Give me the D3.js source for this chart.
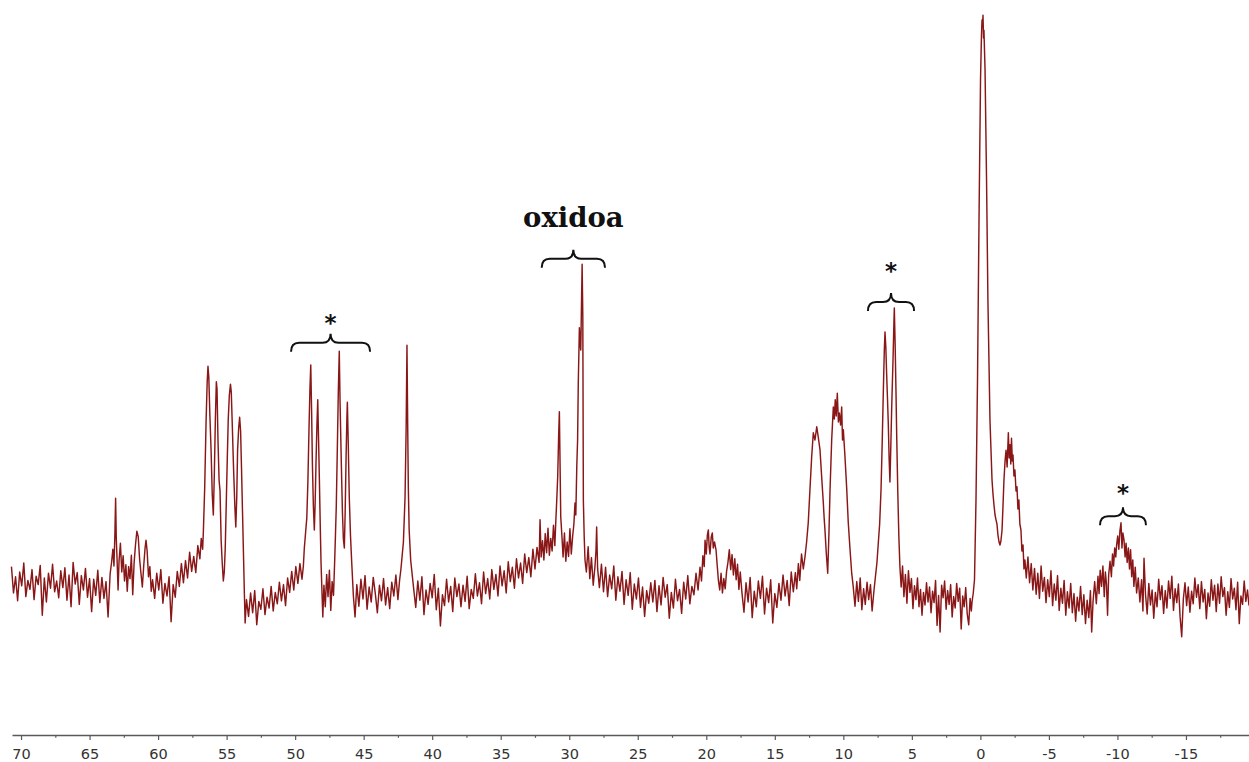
<!DOCTYPE html>
<html><head><meta charset="utf-8">
<script src="https://cdn.jsdelivr.net/npm/d3@7"></script>
<style>
html,body{margin:0;padding:0;background:#fff;}
svg{display:block;}
</style></head>
<body>
<svg id="chart" width="1249" height="762"></svg>
<script>
// ---- DATA: chemical shift (ppm) / intensity (a.u.) ----
const seg70_63 = [[70.70,8.9],[70.55,4.5],[70.40,7.2],[70.25,3.2],[70.10,8.0],[69.95,5.7],[69.80,9.5],[69.65,3.9],[69.50,6.6],[69.35,5.1],[69.20,8.4],[69.05,3.4],[68.90,7.3],[68.75,5.9],[68.60,9.1],[68.45,0.8],[68.30,7.0],[68.15,3.0],[68.00,7.8],[67.85,5.3],[67.70,9.3],[67.55,4.7],[67.40,6.5],[67.25,3.7],[67.10,8.2],[66.95,5.4],[66.80,8.7],[66.65,3.3],[66.50,7.5],[66.35,2.2],[66.20,9.6],[66.05,6.0],[65.90,7.9],[65.75,2.6],[65.60,7.4],[65.45,5.0],[65.30,8.6],[65.15,3.8],[65.00,6.9],[64.85,1.4],[64.70,6.8],[64.55,4.1],[64.40,8.3],[64.25,2.9],[64.10,7.1],[63.95,3.6],[63.80,6.4],[63.65,0.5],[63.50,7.7]];
const seg63_60 = [[63.40,9.5],[63.30,11.8],[63.22,9.0],[63.15,14.5],[63.10,20.3],[63.05,13.5],[63.00,10.5],[62.92,5.0],[62.85,9.8],[62.75,12.8],[62.65,8.0],[62.55,10.7],[62.45,6.5],[62.35,9.2],[62.25,4.8],[62.15,8.9],[62.05,6.9],[61.95,10.8],[61.85,4.2],[61.75,9.5],[61.65,12.5],[61.55,14.8],[61.45,13.9],[61.35,10.2],[61.25,7.8],[61.15,5.5],[61.05,9.0],[60.95,12.0],[60.88,13.3],[60.80,11.5],[60.70,7.2],[60.60,8.9],[60.50,4.8]];
const seg60_57 = [[60.40,6.7],[60.25,3.6],[60.10,7.8],[59.95,5.0],[59.80,8.4],[59.65,2.8],[59.50,6.1],[59.35,4.0],[59.20,7.2],[59.05,-0.3],[58.90,5.9],[58.75,3.8],[58.60,8.1],[58.45,5.6],[58.30,9.4],[58.15,6.2],[58.00,9.9],[57.85,7.0],[57.70,11.3],[57.55,8.1],[57.40,10.6],[57.25,7.9],[57.10,12.4],[56.95,10.2],[56.85,13.6],[56.75,11.8],[56.70,14.5]];
const seg56_54 = [[56.60,22.0],[56.50,33.0],[56.42,39.5],[56.36,42.3],[56.30,40.5],[56.22,34.0],[56.13,28.0],[56.05,21.0],[55.97,17.5],[55.90,24.0],[55.82,33.5],[55.75,39.7],[55.70,38.5],[55.63,30.0],[55.55,23.3],[55.48,21.5],[55.40,13.3],[55.32,9.5],[55.24,6.5],[55.17,8.0],[55.10,12.0],[55.02,20.0],[54.95,27.0],[54.88,33.5],[54.80,37.5],[54.72,39.3],[54.66,38.0],[54.58,32.0],[54.49,25.0],[54.40,19.0],[54.33,15.5],[54.26,20.5],[54.20,28.3],[54.12,32.0],[54.05,33.8],[53.98,31.5],[53.91,25.0],[53.83,17.0],[53.76,10.0],[53.70,4.0],[53.65,-0.5]];
const seg53_49 = [[53.55,3.4],[53.40,0.6],[53.25,4.5],[53.10,1.2],[52.95,4.9],[52.80,-0.8],[52.65,3.1],[52.50,1.8],[52.35,5.2],[52.20,0.9],[52.05,3.8],[51.90,2.0],[51.75,5.6],[51.60,1.5],[51.45,4.6],[51.30,2.7],[51.15,6.3],[51.00,3.2],[50.85,5.9],[50.70,2.4],[50.55,7.0],[50.40,4.6],[50.25,8.1],[50.10,5.0],[49.95,8.9],[49.80,6.1],[49.65,9.4],[49.50,6.8],[49.40,9.0]];
const seg49_48 = [[49.33,12.0],[49.24,14.5],[49.15,17.0],[49.07,23.0],[48.99,31.7],[48.92,38.5],[48.86,42.5],[48.80,35.0],[48.74,26.0],[48.67,19.0],[48.60,15.0],[48.54,19.5],[48.48,26.0],[48.41,32.5],[48.35,36.7],[48.29,30.0],[48.23,23.3],[48.17,16.0],[48.11,9.5],[48.04,4.5],[47.98,0.5]];
const seg48_47 = [[47.90,5.8],[47.80,2.2],[47.70,7.6],[47.60,3.9],[47.50,8.3],[47.40,1.6],[47.30,6.4],[47.20,4.1],[47.12,9.5]];
const seg47_46 = [[47.06,14.0],[47.00,18.8],[46.92,28.8],[46.85,38.0],[46.78,44.8],[46.72,36.0],[46.63,26.0],[46.55,18.0],[46.48,13.5],[46.41,12.0],[46.35,18.0],[46.28,27.5],[46.22,34.0],[46.19,36.3],[46.13,30.0],[46.05,20.5],[45.96,14.0],[45.87,9.5],[45.75,4.0],[45.63,0.5]];
const seg45_42 = [[45.50,5.9],[45.35,2.3],[45.20,6.8],[45.05,3.5],[44.90,7.4],[44.75,1.8],[44.60,5.5],[44.45,3.0],[44.30,7.1],[44.15,4.4],[44.00,1.2],[43.85,5.8],[43.70,3.2],[43.55,6.9],[43.40,2.5],[43.25,5.4],[43.10,1.9],[42.95,6.3],[42.80,4.0],[42.65,7.5],[42.50,3.4],[42.38,6.6],[42.28,8.5]];
const seg42_41 = [[42.22,10.0],[42.10,13.0],[41.98,20.5],[41.90,32.0],[41.84,45.8],[41.79,33.0],[41.74,22.0],[41.68,15.0],[41.57,10.0],[41.48,8.0]];
const seg41_32 = [[41.35,5.2],[41.20,2.1],[41.05,6.5],[40.90,3.3],[40.75,7.2],[40.60,0.9],[40.45,5.0],[40.30,2.6],[40.15,6.1],[40.00,3.7],[39.85,7.6],[39.70,1.7],[39.55,5.3],[39.40,-1.0],[39.25,4.2],[39.10,2.4],[38.95,6.8],[38.80,3.0],[38.65,5.6],[38.50,1.4],[38.35,7.0],[38.20,3.9],[38.05,6.0],[37.90,2.2],[37.75,5.8],[37.60,3.1],[37.45,7.3],[37.30,1.9],[37.15,5.1],[37.00,3.6],[36.85,7.7],[36.70,4.0],[36.55,6.2],[36.40,2.7],[36.25,8.0],[36.10,4.4],[35.95,6.9],[35.80,3.5],[35.65,8.4],[35.50,5.1],[35.35,7.6],[35.20,4.0],[35.05,9.0],[34.90,5.7],[34.75,8.2],[34.60,4.5],[34.45,9.7],[34.30,6.4],[34.15,8.8],[34.00,5.3],[33.85,10.2],[33.70,7.0],[33.55,9.5],[33.40,6.1],[33.25,11.0],[33.10,7.9],[32.95,10.4],[32.80,7.2],[32.65,11.8],[32.50,8.5],[32.35,12.1],[32.20,9.6],[32.13,16.7],[32.05,10.5]];
const seg32_29 = [[31.95,13.2],[31.85,10.0],[31.75,14.4],[31.65,11.2],[31.55,15.3],[31.45,10.8],[31.35,13.6],[31.25,11.5],[31.15,15.8],[31.05,12.4],[30.98,16.5],[30.91,20.0],[30.84,24.0],[30.77,31.0],[30.72,34.7],[30.67,26.0],[30.62,17.2],[30.53,13.8],[30.45,10.5],[30.35,14.5],[30.25,9.8],[30.15,13.0],[30.05,10.6],[29.95,15.2],[29.85,11.0],[29.75,14.0],[29.66,16.0],[29.58,19.5],[29.52,17.5],[29.45,25.5],[29.39,30.0],[29.34,39.5],[29.26,48.7],[29.20,46.0],[29.16,45.0],[29.11,52.0],[29.06,59.3],[29.01,50.5],[28.97,20.0],[28.91,14.0],[28.85,10.0]];
const seg28_24 = [[28.75,8.0],[28.62,12.2],[28.50,6.9],[28.38,10.4],[28.25,5.8],[28.12,9.0],[28.05,11.5],[28.00,15.5],[27.93,8.6],[27.80,5.4],[27.65,9.3],[27.50,4.7],[27.35,8.8],[27.20,3.9],[27.05,7.5],[26.90,5.2],[26.75,9.0],[26.60,3.3],[26.45,7.2],[26.30,4.8],[26.15,8.1],[26.00,2.6],[25.85,6.7],[25.70,4.1],[25.55,7.9],[25.40,1.8],[25.25,6.0],[25.10,3.5],[24.95,7.0],[24.80,2.1],[24.65,5.5],[24.50,0.6],[24.35,4.9],[24.20,2.8],[24.05,6.2]];
const seg24_21 = [[23.90,3.0],[23.75,6.6],[23.60,1.4],[23.45,5.7],[23.30,2.5],[23.15,7.1],[23.00,3.8],[22.85,5.9],[22.70,0.3],[22.55,4.6],[22.40,2.0],[22.25,6.8],[22.10,3.2],[21.95,5.1],[21.80,1.1],[21.65,6.3],[21.50,3.5],[21.35,7.4],[21.20,2.7],[21.05,5.6],[20.90,4.2],[20.75,7.8],[20.60,5.0]];
const seg20_17 = [[20.46,8.8],[20.35,6.5],[20.25,10.7],[20.15,8.9],[20.09,13.3],[20.00,11.0],[19.92,14.2],[19.85,15.0],[19.79,12.2],[19.73,11.0],[19.64,13.8],[19.56,14.5],[19.49,12.0],[19.40,13.0],[19.29,11.7],[19.20,9.0],[19.12,6.7],[19.02,5.0],[18.92,7.8],[18.82,4.5],[18.72,6.9],[18.62,5.2],[18.52,8.1],[18.42,9.6],[18.32,11.7],[18.22,8.4],[18.12,10.9],[18.02,7.5],[17.92,10.2],[17.82,6.7],[17.72,9.3],[17.62,5.1],[17.52,8.0]];
const seg17_13 = [[17.40,4.6],[17.25,1.3],[17.10,6.2],[16.95,3.0],[16.80,7.1],[16.65,0.4],[16.50,4.8],[16.35,2.2],[16.20,6.5],[16.05,3.6],[15.90,7.3],[15.75,1.0],[15.60,5.3],[15.45,2.9],[15.30,6.7],[15.15,-0.5],[15.00,4.4],[14.85,2.1],[14.70,6.1],[14.55,3.3],[14.40,7.5],[14.25,4.0],[14.10,6.6],[13.95,2.4],[13.80,8.0],[13.65,4.7],[13.50,7.9],[13.40,5.2],[13.28,9.4],[13.18,6.6],[13.05,11.0],[12.92,8.5]];
const seg13_9 = [[12.80,10.5],[12.68,13.0],[12.56,16.2],[12.43,22.0],[12.31,27.2],[12.19,31.2],[12.07,30.0],[11.94,32.2],[11.83,30.5],[11.70,28.3],[11.58,23.8],[11.46,19.5],[11.40,17.0],[11.34,15.0],[11.24,11.0],[11.14,7.8],[11.05,14.5],[10.97,21.7],[10.85,30.0],[10.73,35.5],[10.66,33.5],[10.59,36.7],[10.52,34.0],[10.44,37.8],[10.36,33.0],[10.29,34.5],[10.20,32.5],[10.12,35.5],[10.06,30.0],[10.00,31.7],[9.88,27.2],[9.75,21.7],[9.64,16.2],[9.51,11.7],[9.39,7.8]];
const seg9_8 = [[9.28,5.6],[9.15,2.3],[9.02,6.4],[8.90,3.1],[8.77,7.0],[8.65,1.7],[8.52,5.2],[8.40,2.6],[8.27,6.3],[8.15,3.4],[8.02,5.9],[7.90,1.5],[7.77,4.8],[7.65,7.4],[7.55,9.5]];
const seg7_6 = [[7.45,12.8],[7.35,16.0],[7.25,21.7],[7.16,30.0],[7.08,38.3],[7.01,45.0],[6.96,48.0],[6.90,45.5],[6.84,41.0],[6.78,37.0],[6.72,32.8],[6.66,27.0],[6.60,23.0],[6.54,28.5],[6.47,35.5],[6.37,43.8],[6.31,49.5],[6.28,52.0],[6.22,46.0],[6.16,38.3],[6.10,30.0],[6.03,21.7],[5.95,14.0],[5.87,8.8]];
const seg6_1 = [[5.78,5.5],[5.68,9.0],[5.58,3.9],[5.47,7.6],[5.36,2.8],[5.25,8.2],[5.14,4.6],[5.03,6.9],[4.92,1.9],[4.81,5.7],[4.70,3.4],[4.59,7.0],[4.48,2.2],[4.37,5.1],[4.26,0.8],[4.15,4.6],[4.04,2.5],[3.93,6.2],[3.82,3.0],[3.71,5.5],[3.60,1.2],[3.49,4.8],[3.38,2.9],[3.27,6.6],[3.16,-0.9],[3.05,4.1],[2.94,-2.0],[2.83,5.8],[2.72,3.7],[2.61,6.5],[2.50,1.8],[2.39,4.9],[2.28,2.6],[2.17,5.9],[2.06,0.5],[1.95,3.9],[1.84,2.0],[1.73,6.1],[1.62,3.1],[1.51,5.3],[1.40,-1.5],[1.29,4.0],[1.18,2.2],[1.07,5.4],[0.96,1.0],[0.85,-0.8],[0.75,3.6],[0.66,1.5]];
const seg1_m3 = [[0.61,3.0],[0.52,4.5],[0.43,6.7],[0.32,20.0],[0.21,40.0],[0.10,66.7],[-0.01,90.0],[-0.08,97.5],[-0.12,100.0],[-0.16,99.0],[-0.19,100.8],[-0.23,97.0],[-0.26,98.3],[-0.34,91.7],[-0.45,73.3],[-0.55,53.3],[-0.70,33.3],[-0.85,23.3],[-0.92,21.0],[-0.99,19.2],[-1.07,17.5],[-1.14,16.7],[-1.21,16.0],[-1.28,14.2],[-1.36,13.0],[-1.43,12.5],[-1.50,13.2],[-1.58,15.0],[-1.65,19.0],[-1.72,23.3],[-1.80,26.5],[-1.87,28.3],[-1.95,25.5],[-2.04,31.2],[-2.10,27.0],[-2.16,29.2],[-2.22,26.0],[-2.27,30.3],[-2.33,26.5],[-2.38,27.5],[-2.45,24.0],[-2.52,25.0],[-2.60,21.5],[-2.67,22.2],[-2.74,18.5],[-2.81,20.0],[-2.88,16.0],[-2.96,15.0],[-3.03,11.5],[-3.11,12.5],[-3.18,8.5],[-3.25,10.0]];
const segm3_m8 = [[-3.35,7.0],[-3.47,10.5],[-3.59,6.2],[-3.71,9.4],[-3.83,5.0],[-3.95,8.6],[-4.07,4.3],[-4.19,7.8],[-4.31,3.6],[-4.43,9.0],[-4.55,4.8],[-4.67,7.1],[-4.79,2.9],[-4.91,6.7],[-5.03,3.9],[-5.15,8.2],[-5.27,2.4],[-5.39,6.0],[-5.51,3.3],[-5.63,7.4],[-5.75,1.6],[-5.87,5.3],[-5.99,2.8],[-6.11,6.6],[-6.23,0.8],[-6.35,4.7],[-6.47,2.0],[-6.59,6.1],[-6.71,1.2],[-6.83,4.4],[-6.95,-0.2],[-7.07,3.8],[-7.19,1.5],[-7.31,5.6],[-7.43,0.9],[-7.55,4.2],[-7.67,-0.6],[-7.79,3.3],[-7.91,0.4],[-8.03,4.9],[-8.12,-2.0],[-8.22,3.1],[-8.34,6.4],[-8.46,2.7]];
const segm8_m12 = [[-8.58,7.3],[-8.66,4.4],[-8.74,8.3],[-8.84,5.6],[-8.94,9.0],[-9.04,3.9],[-9.12,8.0],[-9.20,6.0],[-9.28,0.8],[-9.36,7.5],[-9.46,9.8],[-9.56,7.2],[-9.64,11.0],[-9.72,9.0],[-9.80,12.0],[-9.88,10.5],[-9.94,12.5],[-10.02,14.0],[-10.10,11.8],[-10.18,14.8],[-10.26,16.2],[-10.33,12.0],[-10.40,14.5],[-10.48,13.3],[-10.56,10.5],[-10.63,12.8],[-10.71,9.6],[-10.80,12.0],[-10.88,8.5],[-10.96,11.7],[-11.04,7.2],[-11.12,10.0],[-11.20,5.6],[-11.30,8.8],[-11.40,4.5],[-11.52,7.0],[-11.64,3.0],[-11.76,6.7],[-11.86,1.5],[-11.94,10.3]];
const segm12_m20 = [[-12.05,4.2],[-12.17,1.0],[-12.29,6.1],[-12.41,2.5],[-12.53,5.0],[-12.65,0.3],[-12.77,4.6],[-12.89,2.2],[-13.01,6.8],[-13.13,3.4],[-13.25,5.7],[-13.37,1.1],[-13.49,4.9],[-13.61,2.0],[-13.73,6.5],[-13.85,3.6],[-13.97,7.3],[-14.09,1.6],[-14.21,5.2],[-14.33,2.9],[-14.45,6.0],[-14.57,0.6],[-14.69,-2.8],[-14.81,3.5],[-14.93,6.2],[-15.05,2.4],[-15.17,5.5],[-15.29,1.3],[-15.41,4.8],[-15.53,2.7],[-15.65,7.0],[-15.77,3.8],[-15.89,5.9],[-16.01,1.9],[-16.13,6.4],[-16.25,3.0],[-16.37,5.1],[-16.49,0.2],[-16.61,4.5],[-16.73,2.3],[-16.85,6.7],[-16.97,3.3],[-17.09,5.8],[-17.21,1.4],[-17.33,6.0],[-17.45,2.8],[-17.57,7.2],[-17.69,3.9],[-17.81,5.4],[-17.93,0.8],[-18.05,4.7],[-18.17,2.1],[-18.29,6.9],[-18.41,3.5],[-18.53,5.3],[-18.65,1.7],[-18.77,6.3],[-18.89,-0.6],[-19.01,4.0],[-19.13,2.6],[-19.25,6.5],[-19.37,3.1],[-19.49,5.0],[-19.60,2.4]];

const majorTicks = [70,65,60,55,50,45,40,35,30,25,20,15,10,5,0,-5,-10,-15];
const minorTicks = [67.5,62.5,57.5,52.5,47.5,42.5,37.5,32.5,27.5,22.5,17.5,12.5,7.5,2.5,-2.5,-7.5,-12.5,-17.5];
const ppmExtent = [70.66, -19.6];

// annotation brackets: [ppm start, ppm end, bracket level, label, label baseline level]
const bracketFrom  = [50.30, 32.01, 8.20, -8.73];
const bracketTo    = [44.53, 27.39, 4.84, -12.08];
const bracketLevel = [46.2, 60.2, 53.0, 17.3];
const bracketLabel = ["*", "oxidoa", "*", "*"];
const labelLevel   = [48.2, 65.5, 56.8, 19.8];

// ---- DRAW ----
const spectrum = [].concat(seg70_63, seg63_60, seg60_57, seg56_54, seg53_49, seg49_48, seg48_47, seg47_46,
  seg45_42, seg42_41, seg41_32, seg32_29, seg28_24, seg24_21, seg20_17, seg17_13, seg13_9, seg9_8, seg7_6,
  seg6_1, seg1_m3, segm3_m8, segm8_m12, segm12_m20);

const svg = d3.select("#chart");
const x = d3.scaleLinear().domain(ppmExtent).range([12, 1249]);
const y = d3.scaleLinear().domain([0, 100]).range([620, 20]);
const axisY = 735;

svg.append("path")
  .datum(spectrum)
  .attr("fill", "none")
  .attr("stroke", "#8a1717")
  .attr("stroke-width", 1.45)
  .attr("stroke-linejoin", "round")
  .attr("d", d3.line().x(d => x(d[0])).y(d => y(d[1])));

// axis
const gAxis = svg.append("g").attr("transform", `translate(0,${axisY})`)
  .call(d3.axisBottom(x).tickValues(majorTicks).tickSize(5).tickSizeOuter(0).tickPadding(9)
    .tickFormat(d => String(d)));
gAxis.select(".domain").attr("stroke", "#5a5a5a").attr("stroke-width", 1.4);
gAxis.selectAll(".tick line").attr("stroke", "#5a5a5a").attr("stroke-width", 1.2);
gAxis.selectAll(".tick text").attr("fill", "#333").style("font-family", "'DejaVu Sans', sans-serif").style("font-size", "14.5px");

const gMinor = svg.append("g").attr("transform", `translate(0,${axisY})`)
  .call(d3.axisBottom(x).tickValues(minorTicks).tickSize(2.8).tickFormat(""));
gMinor.select(".domain").remove();
gMinor.selectAll(".tick line").attr("stroke", "#5a5a5a").attr("stroke-width", 1.2);

// brackets
bracketFrom.forEach((p0, i) => {
  const x0 = x(p0), x1 = x(bracketTo[i]), yb = y(bracketLevel[i]);
  const xc = (x0 + x1) / 2, r = 8, h = 9, c = 9;
  const path = `M${x0},${yb + h} Q${x0},${yb} ${x0 + r},${yb} L${xc - r},${yb} Q${xc},${yb} ${xc},${yb - c}` +
               ` Q${xc},${yb} ${xc + r},${yb} L${x1 - r},${yb} Q${x1},${yb} ${x1},${yb + h}`;
  svg.append("path").attr("d", path).attr("fill", "none").attr("stroke", "#111").attr("stroke-width", 2);
  const isWord = bracketLabel[i].length > 1;
  svg.append("text")
    .attr("x", xc).attr("y", y(labelLevel[i]))
    .attr("text-anchor", "middle")
    .attr("fill", "#111")
    .style("font-family", isWord ? "'DejaVu Serif', serif" : "'DejaVu Sans', sans-serif")
    .style("font-weight", "bold")
    .style("font-size", isWord ? "27.5px" : "23px")
    .text(bracketLabel[i]);
});
</script>
</body></html>
